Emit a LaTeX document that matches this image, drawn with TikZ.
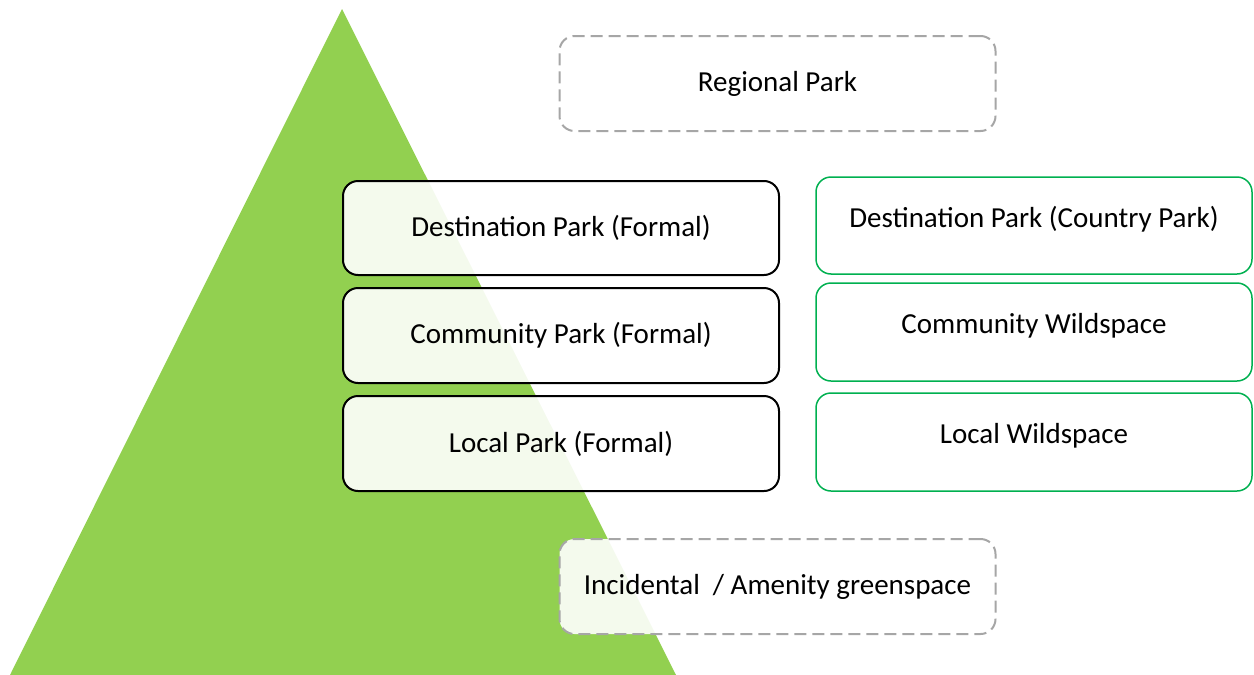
\documentclass[tikz,border=0pt]{standalone}
\usepackage{fontspec}
\setmainfont{Carlito}
\definecolor{parkGreen}{RGB}{146,208,80}
\definecolor{wildGreen}{RGB}{0,176,80}
\definecolor{dashGrey}{RGB}{166,166,166}

\begin{document}
\begin{tikzpicture}[x=1pt, y=-1pt, font=\fontsize{29}{34}\selectfont,
  tier/.style={rounded corners=15pt, fill=white, fill opacity=0.9, text opacity=1,
    minimum width=436pt, minimum height=95pt, inner sep=0pt},
  formal/.style={tier, draw=black, line width=2pt},
  wild/.style={tier, draw=wildGreen, line width=1.5pt, minimum height=97pt,
    text height=20pt, text depth=17pt},
  extra/.style={tier, draw=dashGrey, line width=2pt, dash pattern=on 12pt off 6pt}]
\useasboundingbox (0,0) rectangle (1254,675);
%% hierarchy triangle behind the boxes
\fill[parkGreen] (10,675) -- (342,9) -- (676,675) -- cycle;
%% top and bottom tiers
\node[extra] (regional) at (777.5,83.5) {Regional Park};
\node[extra, text height=20pt, text depth=5pt] (incidental) at (777.5,586.5) {Incidental~ / Amenity greenspace};
%% formal parks
\node[formal, minimum height=94pt] (destFormal) at (561,228)   {Destination Park (Formal)};
\node[formal] (commFormal) at (561,335.5) {Community Park (Formal)};
\node[formal] (localFormal) at (561,443.5) {Local Park (Formal)};
%% wildspace
\node[wild] (destCountry) at (1034,225.5) {Destination Park (Country Park)};
\node[wild, minimum height=98pt] (commWild)  at (1034,332) {Community Wildspace};
\node[wild, minimum height=98pt] (localWild) at (1034,442) {Local Wildspace};
\end{tikzpicture}
\end{document}
